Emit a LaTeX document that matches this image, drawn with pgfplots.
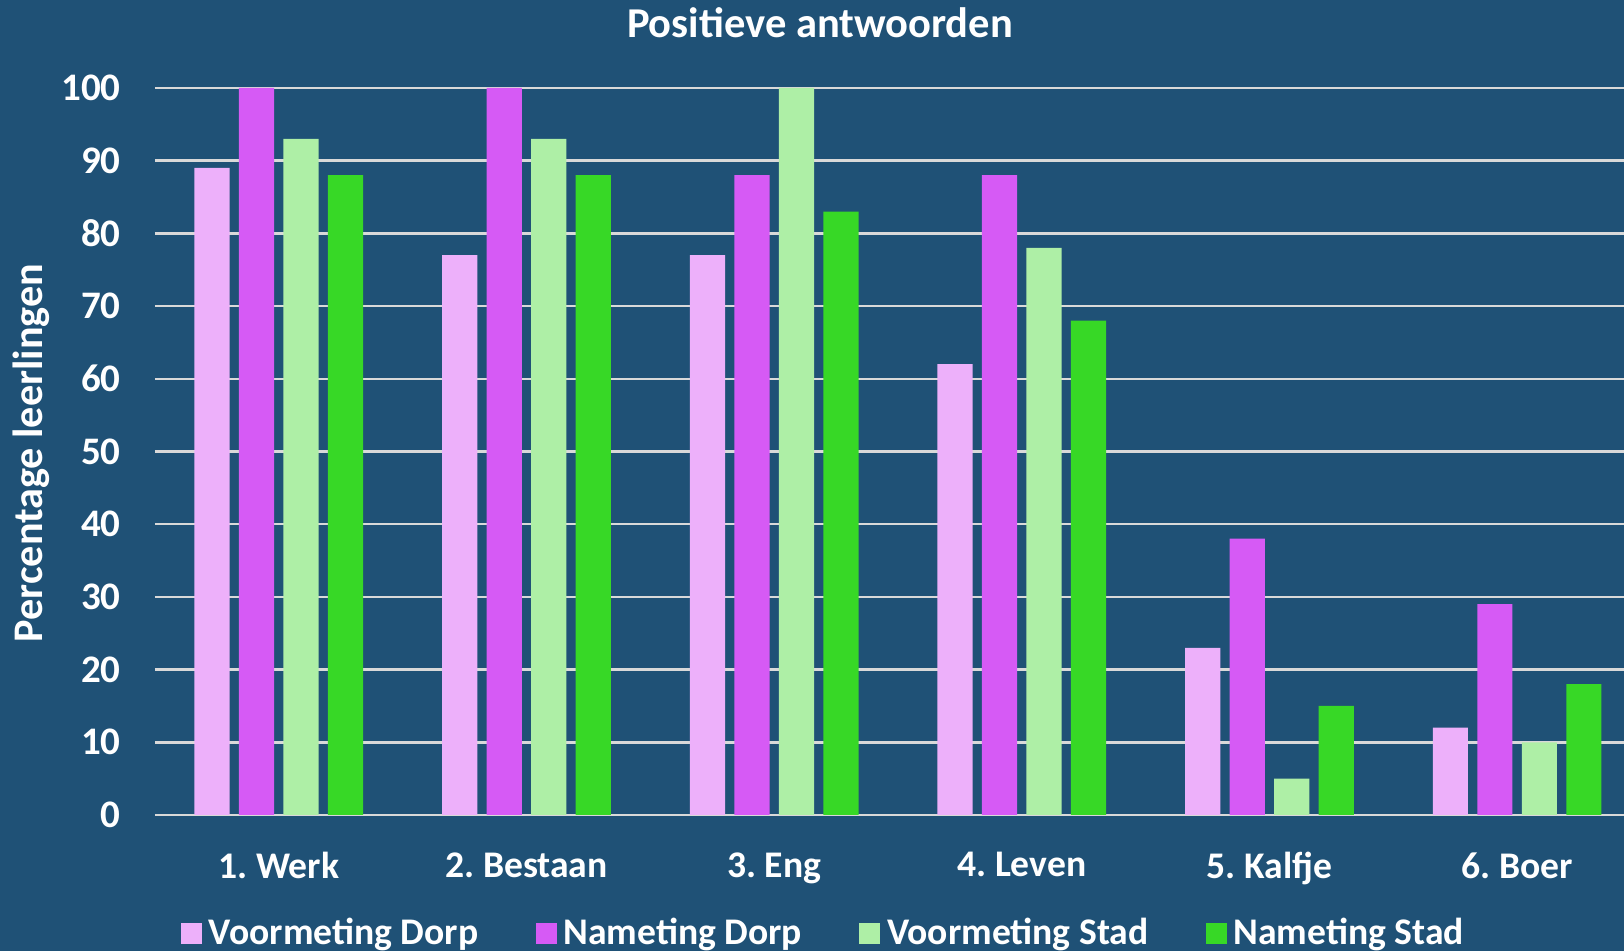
\documentclass[border=0pt]{standalone}
\usepackage{pgfplots}
\pgfplotsset{compat=1.18}
\usepackage{fontspec}
\setmainfont{Carlito}
\frenchspacing
\definecolor{bg}{HTML}{1F5176}
\definecolor{cA}{HTML}{EDB0FA}
\definecolor{cB}{HTML}{D65AF5}
\definecolor{cC}{HTML}{AEEFA6}
\definecolor{cD}{HTML}{37D826}
\definecolor{gridc}{HTML}{D9D9D9}
\begin{document}
\begin{tikzpicture}
\fill[bg] (0,0) rectangle (16.24,9.51);
\begin{axis}[
  at={(1.55cm,1.36cm)}, anchor=south west,
  scale only axis, width=14.86cm, height=7.27cm,
  xmin=-0.5, xmax=5.5, ymin=0, ymax=100,
  ybar=0.093cm, bar width=0.352cm,
  xtick={0,1,2,3,4,5},
  xticklabels={1. Werk,2. Bestaan,3. Eng,4. Leven,5. Kalfje,6. Boer},
  ytick={0,10,...,100},
  major tick length=0pt,
  axis line style={draw=none},
  ymajorgrids, grid style={gridc, line width=0.7pt},
  /pgf/number format/assume math mode=true,
  tick label style={text=white},
  yticklabel style={anchor=east, xshift=-0.22cm, font=\fontsize{11.1}{13}\selectfont\bfseries},
  xticklabel style={yshift=-0.25cm, font=\fontsize{10.7}{13}\selectfont\bfseries},
  clip=false,
  legend style={draw=none, fill=none, at={(0.4515,-0.163)}, anchor=center, legend columns=4,
    font=\fontsize{10.7}{13}\selectfont\bfseries, text=white,
    /tikz/every even column/.append style={column sep=0.5cm}},
  legend cell align=left,
  legend image code/.code={\fill[#1] (0cm,-0.105cm) rectangle (0.21cm,0.105cm);},
]
\addplot[fill=cA, draw=none] coordinates {(0,89) (1,77) (2,77) (3,62) (4,23) (5,12)};
\addplot[fill=cB, draw=none] coordinates {(0,100) (1,100) (2,88) (3,88) (4,38) (5,29)};
\addplot[fill=cC, draw=none] coordinates {(0,93) (1,93) (2,100) (3,78) (4,5) (5,10)};
\addplot[fill=cD, draw=none] coordinates {(0,88) (1,88) (2,83) (3,68) (4,15) (5,18)};
\legend{Voormeting Dorp, Nameting Dorp, Voormeting Stad, Nameting Stad}
\end{axis}
\node[text=white, font=\fontsize{12.1}{15}\selectfont\bfseries] at (8.2,9.28) {Positieve antwoorden};
\node[text=white, rotate=90, font=\fontsize{12}{14}\selectfont\bfseries] at (0.31,4.98) {Percentage leerlingen};
\pgfresetboundingbox
\path[use as bounding box] (0,0) rectangle (16.24,9.51);
\end{tikzpicture}
\end{document}
